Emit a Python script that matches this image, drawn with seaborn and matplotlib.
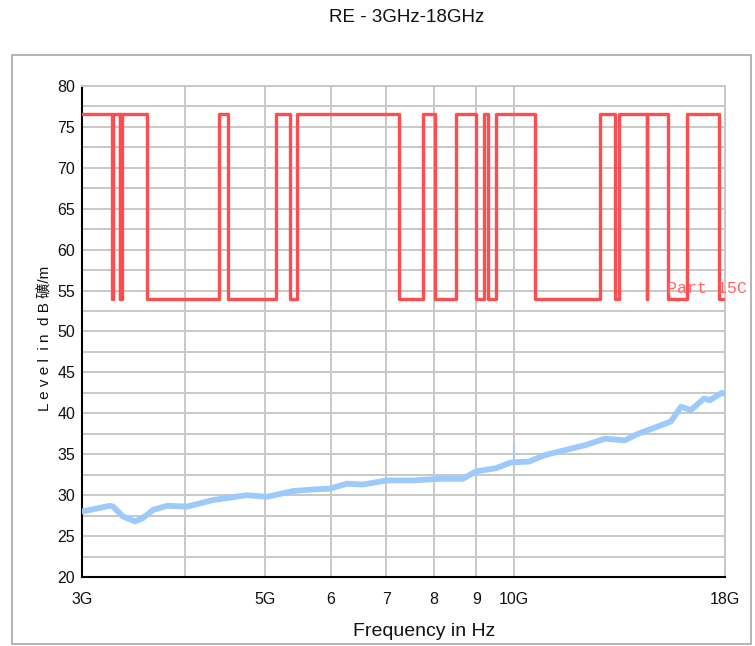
import matplotlib
matplotlib.use("Agg")
import matplotlib.pyplot as plt
import seaborn as sns
import pandas as pd
from matplotlib.ticker import FixedLocator, NullLocator, FixedFormatter, MultipleLocator
from matplotlib.patches import Rectangle

# ---------------- data ----------------
meas_freq_ghz = [3.000, 3.243, 3.271, 3.363, 3.477, 3.555, 3.656, 3.802, 4.019, 4.320,
                 4.751, 5.023, 5.400, 5.709, 5.987, 6.277, 6.563, 7.016, 7.544, 8.135,
                 8.671, 8.991, 9.507, 9.912, 10.42, 10.90, 11.52, 12.18, 12.88, 13.62,
                 14.12, 14.93, 15.48, 15.92, 16.37, 16.97, 17.26, 17.84, 18.00]
meas_level = [28.0, 28.7, 28.6, 27.4, 26.8, 27.2, 28.2, 28.7, 28.6, 29.4,
              30.0, 29.8, 30.5, 30.7, 30.8, 31.4, 31.3, 31.8, 31.8, 32.0,
              32.0, 32.9, 33.3, 34.0, 34.1, 34.9, 35.5, 36.1, 36.9, 36.7,
              37.5, 38.4, 39.0, 40.8, 40.4, 41.8, 41.6, 42.5, 42.4]
spike_freq_ghz = [10.0, 10.0]
spike_level = [34.0, 36.2]

restricted_start_ghz = [3.26, 3.332, 3.3458, 3.6, 4.5, 5.35, 7.25, 8.025, 9.0, 9.3,
                        10.6, 13.25, 14.47, 15.35, 17.7]
restricted_end_ghz = [3.267, 3.339, 3.358, 4.4, 5.15, 5.46, 7.75, 8.5, 9.2, 9.5,
                      12.7, 13.4, 14.5, 16.2, 18.0]
limit_high = 76.6
limit_low = 54.0

x_ticks_ghz = [3, 4, 5, 6, 7, 8, 9, 10, 18]
x_tick_labels = ["3G", "", "5G", "6", "7", "8", "9", "10G", "18G"]
y_ticks = [20, 25, 30, 35, 40, 45, 50, 55, 60, 65, 70, 75, 80]

title = "RE - 3GHz-18GHz"
x_label = "Frequency in Hz"
y_label = "L e v e l  i n  d B 礦/m"
limit_name = "Part 15C"

# ---------------- build limit polyline ----------------
lim_x = [3.0]
lim_y = [limit_high]
for a, b in zip(restricted_start_ghz, restricted_end_ghz):
    lim_x += [a, a, b]
    lim_y += [limit_high, limit_low, limit_low]
    if b < 18.0:
        lim_x.append(b)
        lim_y.append(limit_high)
if lim_x[-1] < 18.0:
    lim_x.append(18.0)
    lim_y.append(lim_y[-1])

limit_df = pd.DataFrame({"freq": lim_x, "level": lim_y})
meas_df = pd.DataFrame({"freq": meas_freq_ghz, "level": meas_level})
spike_df = pd.DataFrame({"freq": spike_freq_ghz, "level": spike_level})

# ---------------- style ----------------
sns.set_style("white")
plt.rcParams["font.family"] = ["Liberation Sans", "Noto Sans CJK SC", "DejaVu Sans"]

W, H = 755, 646
fig = plt.figure(figsize=(W / 100, H / 100), dpi=100)
ax = fig.add_axes([82 / W, 1 - 577 / H, (725 - 82) / W, (577 - 86) / H])

# outer frame
fig.patches.append(Rectangle((12 / W, 1 - 644 / H), (751 - 12) / W, (644 - 55) / H,
                             transform=fig.transFigure, fill=False,
                             edgecolor="#a8a8a8", linewidth=1.2))

ax.set_xscale("log")
ax.set_xlim(3.0, 18.0)
ax.set_ylim(20, 80)

grid_c = "#c8c8c8"
sns.lineplot(data=meas_df, x="freq", y="level", ax=ax, color="#9ccbfb",
             linewidth=4.2, estimator=None, sort=False, zorder=3)
sns.lineplot(data=spike_df, x="freq", y="level", ax=ax, color="#9ccbfb",
             linewidth=1.2, estimator=None, sort=False, zorder=3)
sns.lineplot(data=limit_df, x="freq", y="level", ax=ax, color="#ff4d4f",
             linewidth=2.4, estimator=None, sort=False, zorder=4)

ax.xaxis.set_major_locator(FixedLocator(x_ticks_ghz))
ax.xaxis.set_major_formatter(FixedFormatter(x_tick_labels))
ax.xaxis.set_minor_locator(NullLocator())
ax.yaxis.set_major_locator(FixedLocator(y_ticks))
ax.yaxis.set_minor_locator(MultipleLocator(2.5))

ax.grid(True, which="both", axis="y", color=grid_c, linewidth=1.4, zorder=0)
ax.grid(True, which="major", axis="x", color=grid_c, linewidth=1.4, zorder=0)
ax.set_axisbelow(True)

for s in ["top", "right"]:
    ax.spines[s].set_color(grid_c)
    ax.spines[s].set_linewidth(1.4)
for s in ["left", "bottom"]:
    ax.spines[s].set_color("black")
    ax.spines[s].set_linewidth(1.5)

ax.tick_params(axis="both", which="both", direction="inout", length=8, width=1.5,
               color="black", labelsize=11.5, labelcolor="#111111")
ax.tick_params(axis="x", pad=7)
ax.tick_params(axis="y", pad=1)

ax.set_xlabel(x_label, fontsize=14, color="#111111")
ax.xaxis.set_label_coords((424 - 82) / (725 - 82), -(632 - 577) / (577 - 86))
ax.xaxis.label.set_va("center")
ax.set_ylabel(y_label, fontsize=11, color="#111111")
ax.yaxis.set_label_coords(-(82 - 45) / (725 - 82), (577 - 338) / (577 - 86))
ax.yaxis.label.set_va("center")

fig.text(407 / W, 1 - 18 / H, title, ha="center", va="center", fontsize=13.5,
         color="#111111")

ax.text(15.3, 55.2, limit_name, fontsize=12, color="#ff6666",
        family=["Liberation Mono"], ha="left", va="center", clip_on=False, zorder=5)

fig.savefig("out.png", dpi=100)
